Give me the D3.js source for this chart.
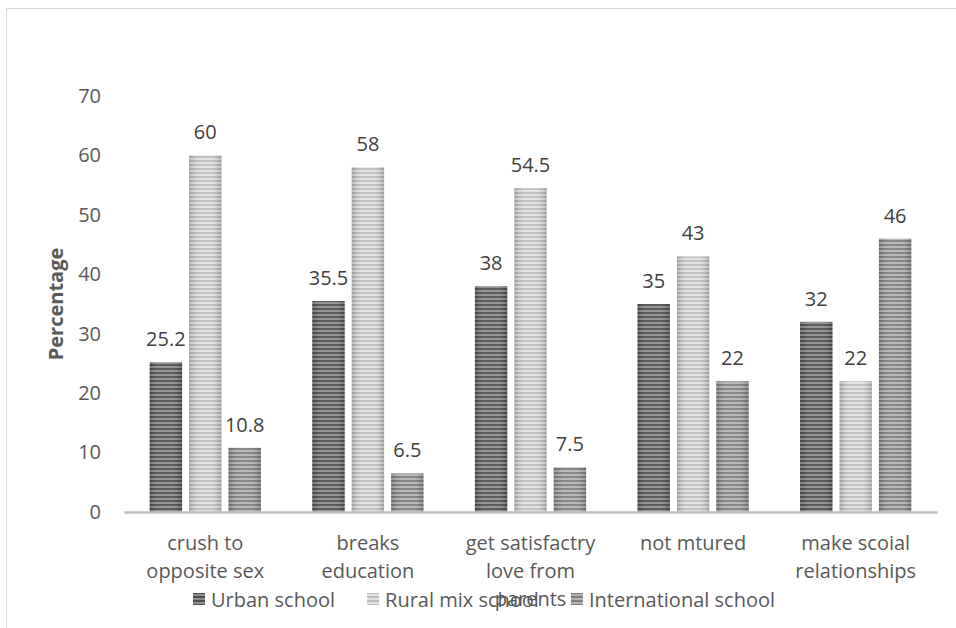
<!DOCTYPE html>
<html>
<head>
<meta charset="utf-8">
<script src="https://cdn.jsdelivr.net/npm/d3@7"></script>
<style>
  body { margin: 0; background: #fff; }
  svg { display: block; font-family: "Open Sans", sans-serif; }
</style>
</head>
<body>
<svg id="chart" width="956" height="628"></svg>
<script>
// categories + series
const categories = ['crush to opposite sex', 'breaks education', 'get satisfactry love from parents', 'not mtured', 'make scoial relationships'];
const seriesNames = ['Urban school', 'Rural mix school', 'International school'];
const urban = [25.2, 35.5, 38, 35, 32];
const rural = [60, 58, 54.5, 43, 22];
const international = [10.8, 6.5, 7.5, 22, 46];
const yTicks = [0, 10, 20, 30, 40, 50, 60, 70];

// stripe colours per series (dark line, light line)
const stripes = [['#4f4f4f', '#8e8e8e'], ['#bcbcbc', '#e2e2e2'], ['#7d7d7d', '#b3b3b3']];

const values = [urban, rural, international];
const rows = categories.map((c, i) => ({ cat: c, vals: values.map((s) => s[i]) }));

const plot = { left: 124, right: 937, top: 96, bottom: 512 };

const svg = d3.select('#chart');

// outer frame
svg.append('rect')
  .attr('x', 6.5).attr('y', 8.5)
  .attr('width', 1000).attr('height', 700)
  .attr('fill', 'none').attr('stroke', '#d9d9d9');

const defs = svg.append('defs');
stripes.forEach((c, i) => {
  const p = defs.append('pattern')
    .attr('id', 'stripe' + i)
    .attr('patternUnits', 'userSpaceOnUse')
    .attr('width', 8).attr('height', 4);
  p.append('rect').attr('width', 8).attr('height', 4).attr('fill', c[1]);
  p.append('rect').attr('width', 8).attr('height', 2).attr('fill', c[0]);
});
// cylinder-ish shading on bars
const shade = defs.append('linearGradient').attr('id', 'shade')
  .attr('x1', 0).attr('x2', 1).attr('y1', 0).attr('y2', 0);
shade.append('stop').attr('offset', '0%').attr('stop-color', '#000').attr('stop-opacity', 0.18);
shade.append('stop').attr('offset', '30%').attr('stop-color', '#fff').attr('stop-opacity', 0.08);
shade.append('stop').attr('offset', '70%').attr('stop-color', '#fff').attr('stop-opacity', 0.08);
shade.append('stop').attr('offset', '100%').attr('stop-color', '#000').attr('stop-opacity', 0.18);

const x0 = d3.scaleBand()
  .domain(categories)
  .range([plot.left, plot.right]);

const x1 = d3.scaleBand()
  .domain(d3.range(seriesNames.length))
  .range([25.7, x0.bandwidth() - 25.7])
  .paddingInner(0.178);

const y = d3.scaleLinear()
  .domain([0, 70])
  .range([plot.bottom, plot.top]);

// y axis
const yAxis = d3.axisLeft(y).tickValues(yTicks).tickSize(0).tickPadding(0);
const yg = svg.append('g')
  .attr('transform', `translate(101,0)`)
  .call(yAxis);
yg.select('.domain').remove();
yg.selectAll('text')
  .attr('font-family', '"Open Sans", sans-serif')
  .attr('font-size', 20)
  .attr('fill', '#595959');

// bars
const groups = svg.append('g')
  .selectAll('g')
  .data(rows)
  .enter()
  .append('g')
  .attr('transform', (d) => `translate(${x0(d.cat)},0)`);

groups.selectAll('.bar')
  .data((d) => d.vals.map((v, i) => ({ v, i })))
  .enter()
  .append('rect')
  .classed('bar', true)
  .attr('x', (d) => x1(d.i))
  .attr('y', (d) => y(d.v))
  .attr('width', x1.bandwidth())
  .attr('height', (d) => y(0) - y(d.v))
  .attr('fill', (d) => `url(#stripe${d.i})`);

groups.selectAll('.shade')
  .data((d) => d.vals.map((v, i) => ({ v, i })))
  .enter()
  .append('rect')
  .attr('x', (d) => x1(d.i))
  .attr('y', (d) => y(d.v))
  .attr('width', x1.bandwidth())
  .attr('height', (d) => y(0) - y(d.v))
  .attr('fill', 'url(#shade)');

groups.selectAll('.lbl')
  .data((d) => d.vals.map((v, i) => ({ v, i })))
  .enter()
  .append('text')
  .attr('x', (d) => x1(d.i) + x1.bandwidth() / 2)
  .attr('y', (d) => y(d.v) - 16)
  .attr('text-anchor', 'middle')
  .attr('font-size', 20)
  .attr('fill', '#404040')
  .text((d) => d.v);

// x axis
const xAxis = d3.axisBottom(x0).tickSize(0).tickSizeOuter(0).tickPadding(0);
const xg = svg.append('g')
  .attr('transform', `translate(0,${plot.bottom})`)
  .call(xAxis);
xg.select('.domain').attr('stroke', '#bfbfbf').attr('stroke-width', 2.5);
xg.selectAll('text')
  .attr('font-family', '"Open Sans", sans-serif')
  .attr('font-size', 20)
  .attr('fill', '#595959')
  .attr('dy', null)
  .attr('y', 38)
  .each(function (d) {
    // word wrap
    const t = d3.select(this);
    const words = d.split(' ');
    t.text(null);
    let line = [];
    let n = 0;
    let ts = t.append('tspan').attr('x', 0).attr('y', 38);
    words.forEach((w) => {
      line.push(w);
      ts.text(line.join(' '));
      if (ts.node().getComputedTextLength() > 150 && line.length > 1) {
        line.pop();
        ts.text(line.join(' '));
        line = [w];
        n++;
        ts = t.append('tspan').attr('x', 0).attr('y', 38 + n * 28).text(w);
      }
    });
  });

// y title
svg.append('text')
  .attr('transform', `translate(63,${(plot.top + plot.bottom) / 2}) rotate(-90)`)
  .attr('text-anchor', 'middle')
  .attr('font-size', 20)
  .attr('font-weight', 'bold')
  .attr('fill', '#595959')
  .text('Percentage');

// legend
const legend = svg.append('g').attr('transform', 'translate(193,0)');
let lx = 0;
seriesNames.forEach((name, i) => {
  const g = legend.append('g').attr('transform', `translate(${lx},0)`);
  g.append('rect')
    .attr('x', 0).attr('y', 593)
    .attr('width', 12).attr('height', 12)
    .attr('fill', `url(#stripe${i})`);
  const t = g.append('text')
    .attr('x', 18).attr('y', 607)
    .attr('font-size', 20)
    .attr('fill', '#595959')
    .text(name);
  lx += 18 + t.node().getComputedTextLength() + 32;
});
</script>
</body>
</html>
